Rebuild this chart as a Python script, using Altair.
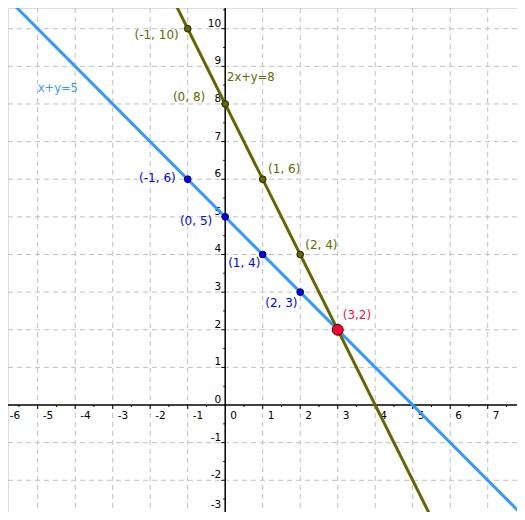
import altair as alt
import pandas as pd

# ---------------- data ----------------
X_TICK_LABELS = [-6, -5, -4, -3, -2, -1, 0, 1, 2, 3, 4, 5, 6, 7]
Y_TICK_LABELS = [-3, -2, -1, 0, 1, 2, 3, 4, 5, 6, 7, 8, 9, 10]
GRID_X = [-5, -4, -3, -2, -1, 1, 2, 3, 4, 5, 6, 7]
GRID_Y = [-2, -1, 1, 2, 3, 4, 5, 6, 7, 8, 9, 10]
MINOR_X = [-5.5, -4.5, -3.5, -2.5, -1.5, -0.5, 0.5, 1.5, 2.5, 3.5, 4.5, 5.5, 6.5, 7.5]
MINOR_Y = [-2.5, -1.5, -0.5, 0.5, 1.5, 2.5, 3.5, 4.5, 5.5, 6.5, 7.5, 8.5, 9.5, 10.5]

# x + y = 5
LINE1_X = [-6, 8]
LINE1_Y = [11, -3]
# 2x + y = 8
LINE2_X = [-2, 6]
LINE2_Y = [12, -4]

BLUE_X = [-1, 0, 1, 2]
BLUE_Y = [6, 5, 4, 3]
BLUE_TXT = ["(-1, 6)", "(0, 5)", "(1, 4)", "(2, 3)"]

OLIVE_X = [-1, 0, 1, 2]
OLIVE_Y = [10, 8, 6, 4]
OLIVE_TXT = ["(-1, 10)", "(0, 8)", "(1, 6)", "(2, 4)"]

CROSS_X = [3]
CROSS_Y = [2]
CROSS_TXT = ["(3,2)"]

EQ_TXT = ["x+y=5", "2x+y=8"]
EQ_X = [-5.0, 0.05]
EQ_Y = [8.41, 8.68]

# ---------------- style ----------------
XMIN, XMAX = -5.792, 7.781
YMIN, YMAX = -2.843, 10.55
W, H = 509, 504
FONT = "DejaVu Sans"
BLUE_LINE = "#3399ff"
BLUE_PT = "#0000ff"
OLIVE = "#666600"
RED = "#ff0033"
GRID = "#c0c0c0"

xs = alt.Scale(domain=[XMIN, XMAX], nice=False, zero=False)
ys = alt.Scale(domain=[YMIN, YMAX], nice=False, zero=False)


def X(f):
    return alt.X(f, type="quantitative", scale=xs, axis=None)


def Y(f):
    return alt.Y(f, type="quantitative", scale=ys, axis=None)


layers = []

# grid
layers.append(alt.Chart(pd.DataFrame({"x": GRID_X})).mark_rule(
    color=GRID, strokeWidth=1, strokeDash=[5, 4]).encode(x=X("x")))
layers.append(alt.Chart(pd.DataFrame({"y": GRID_Y})).mark_rule(
    color=GRID, strokeWidth=1, strokeDash=[5, 4]).encode(y=Y("y")))

# axes
layers.append(alt.Chart(pd.DataFrame({"x": [0]})).mark_rule(
    color="black", strokeWidth=1.5).encode(x=X("x")))
layers.append(alt.Chart(pd.DataFrame({"y": [0]})).mark_rule(
    color="black", strokeWidth=1.5).encode(y=Y("y")))

# ticks on x axis
xt = pd.DataFrame({"x": [v for v in X_TICK_LABELS if v != 0], "y": 0})
layers.append(alt.Chart(xt).mark_rule(color="black", strokeWidth=1, yOffset=0, y2Offset=4).encode(
    x=X("x"), y=Y("y"), y2="y:Q"))
xm = pd.DataFrame({"x": MINOR_X, "y": 0})
layers.append(alt.Chart(xm).mark_rule(color="black", strokeWidth=1, yOffset=0, y2Offset=2).encode(
    x=X("x"), y=Y("y"), y2="y:Q"))
# ticks on y axis
yt = pd.DataFrame({"y": [v for v in Y_TICK_LABELS if v != 0], "x": 0})
layers.append(alt.Chart(yt).mark_rule(color="black", strokeWidth=1, xOffset=0, x2Offset=-4).encode(
    x=X("x"), x2="x:Q", y=Y("y")))
ym = pd.DataFrame({"y": MINOR_Y, "x": 0})
layers.append(alt.Chart(ym).mark_rule(color="black", strokeWidth=1, xOffset=0, x2Offset=-2).encode(
    x=X("x"), x2="x:Q", y=Y("y")))

# axis labels (the outermost ones nudged inward so they stay visible)
x_in = [v for v in X_TICK_LABELS if v != X_TICK_LABELS[0]]
xl = pd.DataFrame({"x": x_in, "y": 0, "t": [str(v) for v in x_in]})
layers.append(alt.Chart(xl).mark_text(
    align="left", baseline="middle", dx=5, dy=10.5, fontSize=10.5, font=FONT, color="black"
).encode(x=X("x"), y=Y("y"), text="t:N"))
xl0 = pd.DataFrame({"x": [X_TICK_LABELS[0]], "y": 0, "t": [str(X_TICK_LABELS[0])]})
layers.append(alt.Chart(xl0).mark_text(
    align="left", baseline="middle", dx=9.5, dy=10.5, fontSize=10.5, font=FONT, color="black"
).encode(x=X("x"), y=Y("y"), text="t:N"))

y_in = [v for v in Y_TICK_LABELS if v != Y_TICK_LABELS[0]]
yl = pd.DataFrame({"y": y_in, "x": 0, "t": [str(v) for v in y_in]})
layers.append(alt.Chart(yl).mark_text(
    align="right", baseline="middle", dx=-4, dy=-5, fontSize=10.5, font=FONT, color="black"
).encode(x=X("x"), y=Y("y"), text="t:N"))
yl0 = pd.DataFrame({"y": [Y_TICK_LABELS[0]], "x": 0, "t": [str(Y_TICK_LABELS[0])]})
layers.append(alt.Chart(yl0).mark_text(
    align="right", baseline="middle", dx=-4, dy=-12.5, fontSize=10.5, font=FONT, color="black"
).encode(x=X("x"), y=Y("y"), text="t:N"))

# lines
layers.append(alt.Chart(pd.DataFrame({"x": LINE1_X, "y": LINE1_Y})).mark_line(
    color=BLUE_LINE, strokeWidth=3, clip=True).encode(x=X("x"), y=Y("y")))
layers.append(alt.Chart(pd.DataFrame({"x": LINE2_X, "y": LINE2_Y})).mark_line(
    color=OLIVE, strokeWidth=3, clip=True).encode(x=X("x"), y=Y("y")))

# points
layers.append(alt.Chart(pd.DataFrame({"x": BLUE_X, "y": BLUE_Y})).mark_circle(
    size=45, fill=BLUE_PT, stroke="#000044", strokeWidth=1, opacity=1).encode(x=X("x"), y=Y("y")))
layers.append(alt.Chart(pd.DataFrame({"x": OLIVE_X, "y": OLIVE_Y})).mark_circle(
    size=45, fill=OLIVE, stroke="#222200", strokeWidth=1, opacity=1).encode(x=X("x"), y=Y("y")))
layers.append(alt.Chart(pd.DataFrame({"x": CROSS_X, "y": CROSS_Y})).mark_circle(
    size=120, fill=RED, stroke="#330000", strokeWidth=1, opacity=1).encode(x=X("x"), y=Y("y")))

# point labels (per-label offsets)
olive_off = [("right", -9, 6.5), ("right", -20, -6.7), ("left", 5.4, -10.7), ("left", 5, -9)]
blue_off = [("right", -12, -1.7), ("right", -13, 3.7), ("right", -2.3, 9), ("right", -2.7, 11.3)]

for i, (a, dx, dy) in enumerate(olive_off):
    d = pd.DataFrame({"x": [OLIVE_X[i]], "y": [OLIVE_Y[i]], "t": [OLIVE_TXT[i]]})
    layers.append(alt.Chart(d).mark_text(
        align=a, baseline="middle", dx=dx, dy=dy, fontSize=12, font=FONT, color=OLIVE
    ).encode(x=X("x"), y=Y("y"), text="t:N"))
for i, (a, dx, dy) in enumerate(blue_off):
    d = pd.DataFrame({"x": [BLUE_X[i]], "y": [BLUE_Y[i]], "t": [BLUE_TXT[i]]})
    layers.append(alt.Chart(d).mark_text(
        align=a, baseline="middle", dx=dx, dy=dy, fontSize=12, font=FONT, color=BLUE_PT
    ).encode(x=X("x"), y=Y("y"), text="t:N"))
d = pd.DataFrame({"x": CROSS_X, "y": CROSS_Y, "t": CROSS_TXT})
layers.append(alt.Chart(d).mark_text(
    align="left", baseline="middle", dx=5, dy=-15, fontSize=12, font=FONT, color="#ee1144"
).encode(x=X("x"), y=Y("y"), text="t:N"))

# equation labels
d = pd.DataFrame({"x": [EQ_X[0]], "y": [EQ_Y[0]], "t": [EQ_TXT[0]]})
layers.append(alt.Chart(d).mark_text(
    align="left", baseline="middle", fontSize=11.5, font=FONT, color=BLUE_LINE
).encode(x=X("x"), y=Y("y"), text="t:N"))
d = pd.DataFrame({"x": [EQ_X[1]], "y": [EQ_Y[1]], "t": [EQ_TXT[1]]})
layers.append(alt.Chart(d).mark_text(
    align="left", baseline="middle", fontSize=11.5, font=FONT, color=OLIVE
).encode(x=X("x"), y=Y("y"), text="t:N"))

chart = alt.layer(*layers).properties(
    width=W, height=H, padding=0,
    autosize=alt.AutoSizeParams(type="none"),
).configure_view(strokeWidth=0).configure(font=FONT, background="white")

chart.save("out.html", embed_options={"renderer": "svg", "actions": False})
